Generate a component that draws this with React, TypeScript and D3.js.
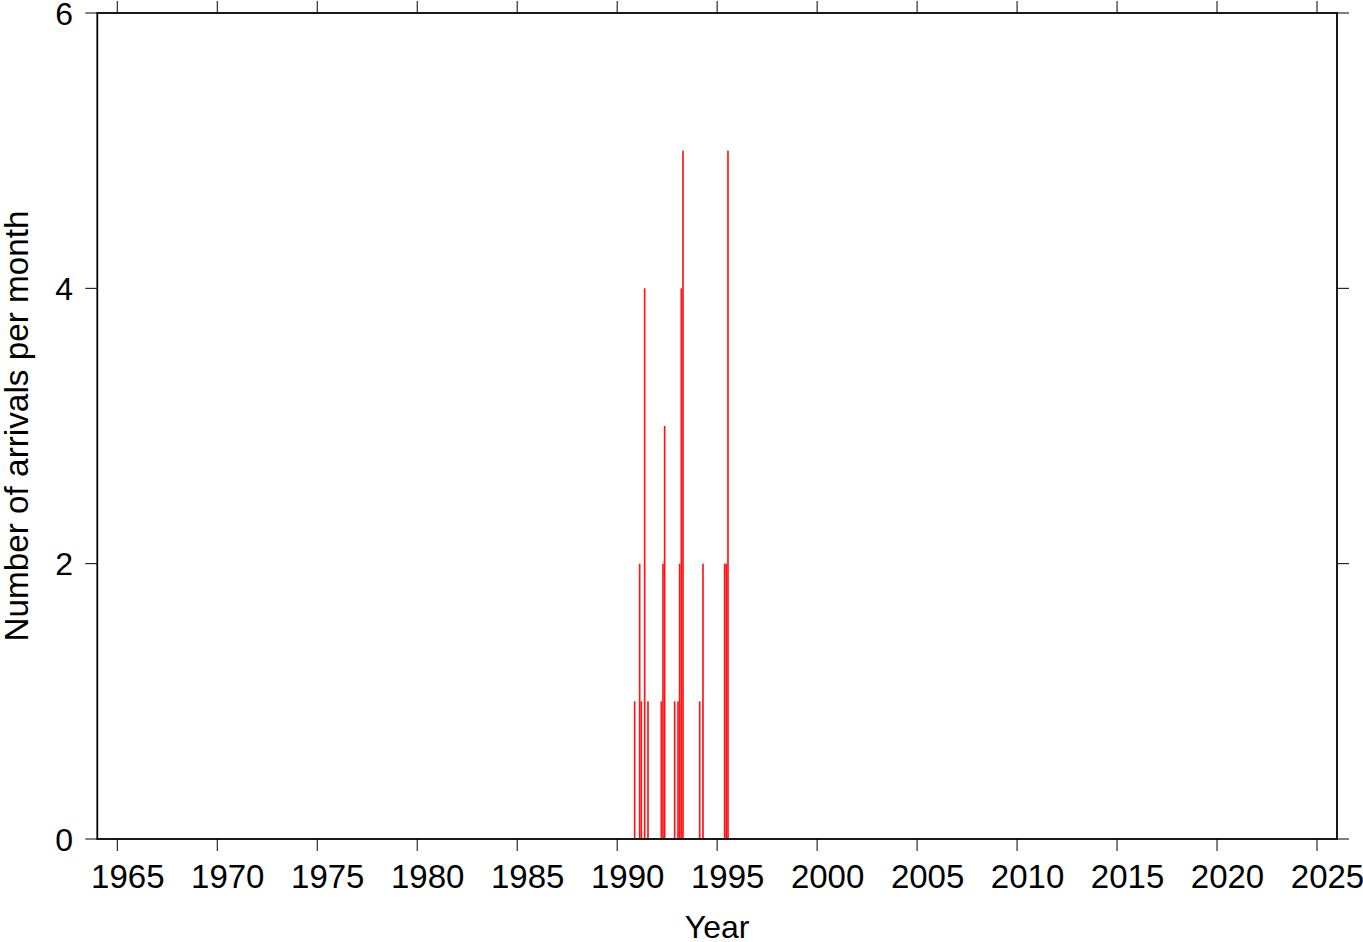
import React from "react";
import * as d3 from "d3";

const months: string[] = [
  "1990-11", "1991-02", "1991-03", "1991-05", "1991-07",
  "1992-03", "1992-04", "1992-05", "1992-11",
  "1993-01", "1993-02", "1993-03", "1993-04",
  "1994-02", "1994-04",
  "1995-05", "1995-06", "1995-07",
];
const counts: number[] = [
  1, 2, 1, 4, 1,
  1, 2, 3, 1,
  1, 2, 4, 5,
  1, 2,
  2, 2, 5,
];
const xTicks: number[] = [1965, 1970, 1975, 1980, 1985, 1990, 1995, 2000, 2005, 2010, 2015, 2020, 2025];
const yTicks: number[] = [0, 2, 4, 6];
const xTitle = "Year";
const yTitle = "Number of arrivals per month";

const W = 1363, H = 942;
const L = 97.3, R = 1337, T = 13, B = 839;
const FONT = "'Liberation Sans', Arial, Helvetica, sans-serif";

export default function App() {
  const x = d3.scaleLinear().domain([1964, 2026]).range([L, R]);
  const y = d3.scaleLinear().domain([0, 6]).range([B, T]);
  const tickLen = 12;

  const bars = months.map((m, i) => {
    const [yr, mo] = m.split("-").map(Number);
    const t0 = yr + (mo - 1) / 12;
    const t1 = t0 + 1 / 12;
    return { x0: x(t0), x1: x(t1), v: counts[i] };
  });

  return (
    <svg width={W} height={H} style={{ position: "absolute", left: 0, top: 0, background: "#fff" }}>
      <rect x={0} y={0} width={W} height={H} fill="#fff" />
      {bars.map((b, i) => (
        <rect key={i} x={b.x0} y={y(b.v)} width={b.x1 - b.x0} height={y(0) - y(b.v)} fill="#ff1414" />
      ))}
      {/* frame */}
      <rect x={L} y={T} width={R - L} height={B - T} fill="none" stroke="#000" strokeWidth={1.8} />
      {/* x ticks */}
      {xTicks.map((t) => (
        <g key={"x" + t}>
          <line x1={x(t)} x2={x(t)} y1={B} y2={B + tickLen} stroke="#000" strokeWidth={1} />
          <line x1={x(t)} x2={x(t)} y1={T} y2={T - tickLen} stroke="#000" strokeWidth={1} />
          <text x={x(t) + 10.5} y={888} textAnchor="middle" fontFamily={FONT} fontSize={33} fill="#000">{t}</text>
        </g>
      ))}
      {/* y ticks */}
      {yTicks.map((t) => (
        <g key={"y" + t}>
          <line x1={L} x2={L - tickLen} y1={y(t)} y2={y(t)} stroke="#000" strokeWidth={1} />
          <line x1={R} x2={R + tickLen} y1={y(t)} y2={y(t)} stroke="#000" strokeWidth={1} />
          <text x={73} y={y(t) + 11.5} textAnchor="end" fontFamily={FONT} fontSize={32} fill="#000">{t}</text>
        </g>
      ))}
      <text x={(L + R) / 2} y={938} textAnchor="middle" fontFamily={FONT} fontSize={32} fill="#000">{xTitle}</text>
      <text transform={`translate(27.5,${(T + B) / 2}) rotate(-90)`} textAnchor="middle" fontFamily={FONT} fontSize={33.3} fill="#000">{yTitle}</text>
    </svg>
  );
}
